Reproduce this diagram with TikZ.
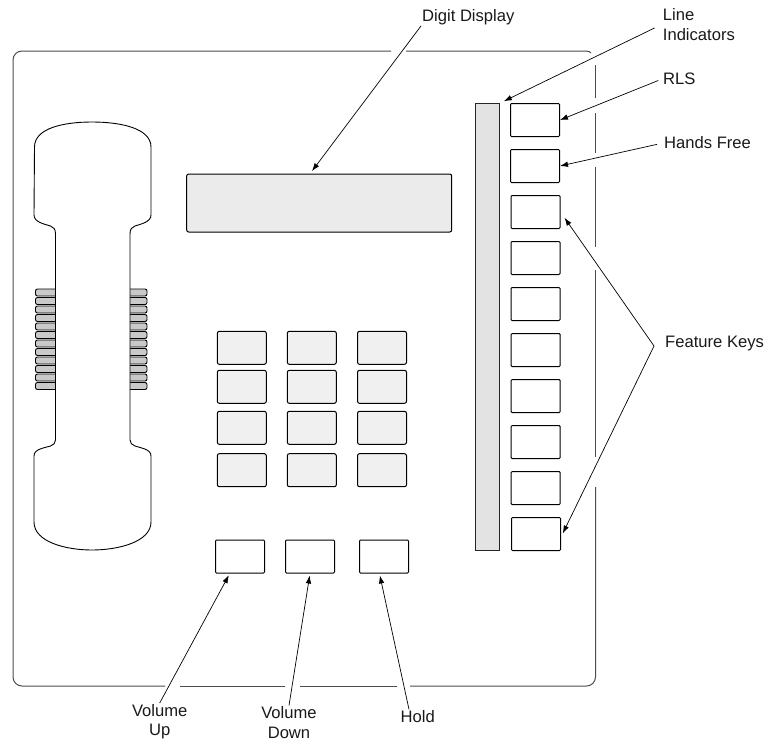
\documentclass[tikz,border=0pt]{standalone}
\usepackage{fontspec}
\setmainfont{Liberation Sans}
\usetikzlibrary{arrows.meta}

\begin{document}
\begin{tikzpicture}[x=1pt,y=-1pt,
	every node/.style={font=\fontsize{16.6}{19.5}\selectfont,text=black!90},
	caseline/.style={draw=black!70,line width=1pt},
	outline/.style={draw=black,line width=.9pt},
	softkey/.style={draw=black,line width=1pt,minimum width=49pt,minimum height=33pt,inner sep=0pt,rounded corners=1pt},
	dialkey/.style={softkey,fill=black!6,rounded corners=2pt},
	callout/.style={draw=black,line width=.7pt,-{Latex[length=8pt,width=5.5pt]}},
	tag/.style={inner sep=1pt,align=left}]
	\useasboundingbox (0,0) rectangle (768,742);

	\draw[caseline,rounded corners=9pt] (391,51) -- (13,51) -- (13,686) -- (165,686);
	\draw[caseline] (180,686) -- (285,686);
	\draw[caseline] (300,686) -- (397,686);
	\draw[caseline,rounded corners=9pt] (410,686) -- (595.5,686) -- (595.5,487);
	\draw[caseline] (406,51) -- (586,51) .. controls (589,51) and (590,52) .. (591,53);
	\foreach \ya/\yb in {65/98,113/153,167/247,270/457}
		\draw[caseline] (595.5,\ya) -- (595.5,\yb);

	\foreach \n in {0,...,11}{
		\draw[outline,fill=black!21,rounded corners=2pt] (35.5,289+8.5*\n) rectangle (60,296+8.5*\n);
		\draw[outline,fill=black!21,rounded corners=2pt] (125,289+8.5*\n) rectangle (147,296+8.5*\n);
	}
	\draw[outline,fill=white] (92,122)
		.. controls (120,122) and (151,128) .. (151,147) -- (151,215)
		.. controls (151,222) and (141,224) .. (135,226)
		.. controls (132,227) and (130,229) .. (130,234) -- (130,440)
		.. controls (130,443) and (132,445) .. (135,446)
		.. controls (141,448) and (151,449) .. (151,456) -- (151,522)
		.. controls (151,542) and (118,550) .. (92,550)
		.. controls (66,550) and (34,542) .. (34,522) -- (34,456)
		.. controls (34,449) and (44,448) .. (50.5,446)
		.. controls (53.5,445) and (55.5,443) .. (55.5,440) -- (55.5,234)
		.. controls (55.5,229) and (53.5,227) .. (50.5,226)
		.. controls (44,224) and (34,222) .. (34,215) -- (34.5,147)
		.. controls (34.5,128) and (64,122) .. (92,122) -- cycle;

	\node[draw=black,line width=1pt,fill=black!8,rounded corners=2pt,minimum width=265pt,minimum height=58pt,inner sep=0pt] (display) at (319.2,203) {};
	\node[draw=black!85,line width=1pt,fill=black!11,minimum width=23.5pt,minimum height=447pt,inner sep=0pt] (leds) at (487.5,327.2) {};

	\foreach \name/\xc/\yc in {keya/535/120,keyb/535/166,keyc/535.5/212,keyd/535.5/258,keye/535.5/304,keyf/535.7/350,keyg/535.7/396,keyh/535.7/442,keyi/535.7/488,keyj/536/534}
		\node[softkey] (\name) at (\xc,\yc) {};

	\foreach \col/\xc in {a/241.8,b/311.8,c/382}
		\foreach \row/\yc in {a/347.8,b/386.8,c/427.8,d/470.2}
			\node[dialkey] (dial\col\row) at (\xc,\yc) {};

	\node[softkey] (volup) at (240,556.5) {};
	\node[softkey] (voldown) at (310,556.5) {};
	\node[softkey] (holdkey) at (384,556.5) {};

	\node[tag,anchor=west] (digits) at (421,17) {Digit Display};
	\node[tag,anchor=west] (lines) at (661.7,24.5) {Line\\Indicators};
	\node[tag,anchor=west] (rls) at (662,79) {RLS};
	\node[tag,anchor=west] (hands) at (663,143) {Hands Free};
	\node[tag,anchor=west] (feature) at (664,344) {Feature Keys};
	\node[tag,align=center] (up) at (159.7,721.7) {Volume\\Up};
	\node[tag,align=center] (down) at (289,722.5) {Volume\\Down};
	\node[tag] (hold) at (417.7,716.7) {Hold};
	\coordinate (apex) at (654,346);

	\draw[callout,shorten >=3pt] (digits.south west) -- (display.107);
	\draw[callout,shorten <=8pt,shorten >=4.5pt] (lines.west) -- (leds.north east);
	\draw[callout,shorten <=4pt] (rls.west) -- (keya.east);
	\draw[callout,shorten <=6pt] (hands.west) -- (keyb.east);
	\draw[callout,shorten >=7pt] (apex) -- (keyc.east);
	\draw[callout,shorten >=4pt] (apex) -- (keyj.-7);
	\draw[callout,shorten >=2pt] (up.north) -- (volup.239);
	\draw[callout,shorten >=2pt] (down.north) -- (voldown.south);
	\draw[callout,shorten >=2pt] (hold.140) -- (holdkey.255);
\end{tikzpicture}
\end{document}
